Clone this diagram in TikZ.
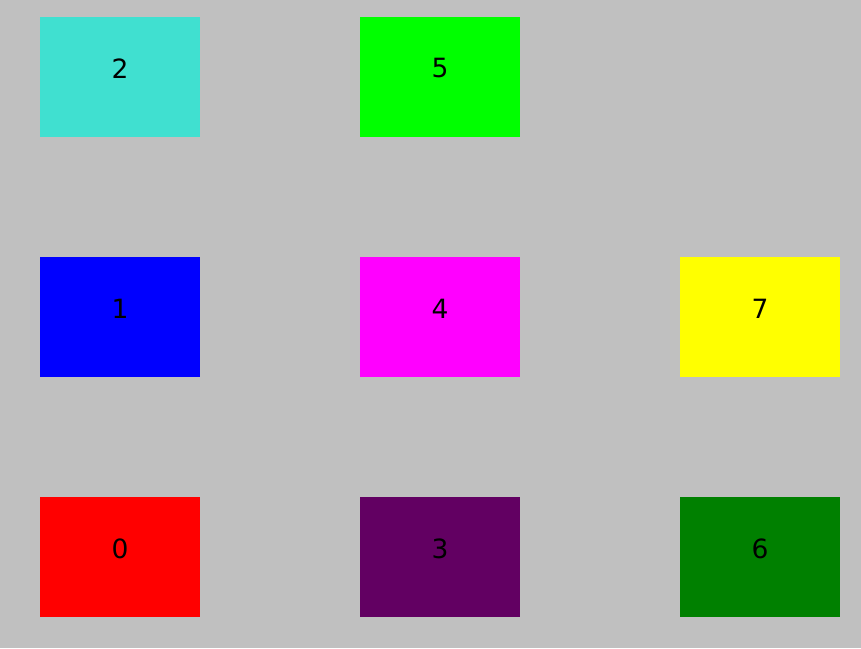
\documentclass[tikz,border=0pt]{standalone}
\usepackage{fontspec}
\setmainfont{DejaVu Sans}

\definecolor{bggray}{HTML}{C0C0C0}
\definecolor{turq}{HTML}{40E0D0}
\definecolor{lime}{HTML}{00FF00}
\definecolor{pureblue}{HTML}{0000FF}
\definecolor{magent}{HTML}{FF00FF}
\definecolor{yell}{HTML}{FFFF00}
\definecolor{pured}{HTML}{FF0000}
\definecolor{purp}{HTML}{620062}
\definecolor{darkgreen}{HTML}{008000}

\tikzset{
    cell/.style={rectangle, minimum width=160pt, minimum height=120pt,
        inner sep=0pt, fill=#1},
    num/.style={label={[yshift=8.5pt, font=\fontsize{26.5}{32}\selectfont]center:#1}}
}

\begin{document}
\begin{tikzpicture}[x=1pt, y=-1pt]
    % background
        \fill[bggray] (0,0) rectangle (861,648);
        \useasboundingbox (0,0) rectangle (861,648);

    % top row
        \node[cell=turq, num=2] (c2) at (120,77) {};
        \node[cell=lime, num=5] (c5) at (440,77) {};

    % middle row
        \node[cell=pureblue, num=1] (c1) at (120,317) {};
        \node[cell=magent, num=4] (c4) at (440,317) {};
        \node[cell=yell, num=7] (c7) at (760,317) {};

    % bottom row
        \node[cell=pured, num=0] (c0) at (120,557) {};
        \node[cell=purp, num=3] (c3) at (440,557) {};
        \node[cell=darkgreen, num=6] (c6) at (760,557) {};
\end{tikzpicture}
\end{document}
